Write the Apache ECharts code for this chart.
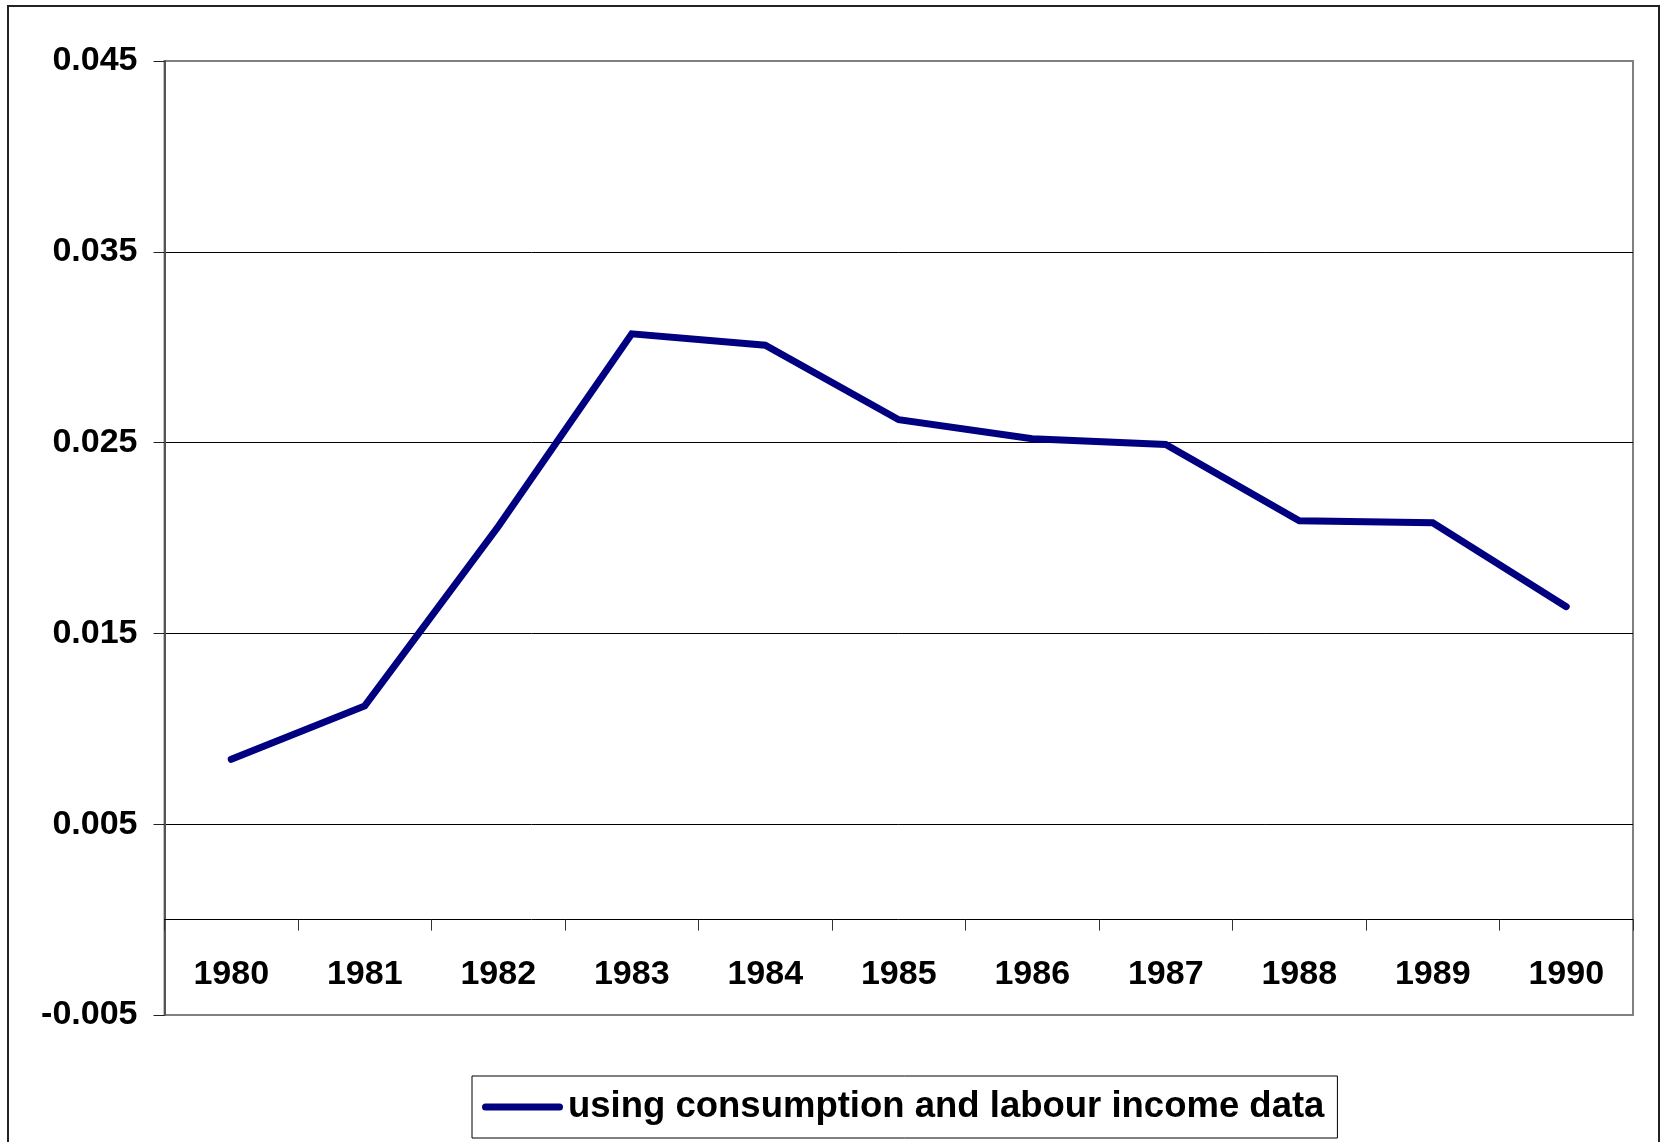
<!DOCTYPE html>
<html>
<head>
<meta charset="utf-8">
<script src="https://cdn.jsdelivr.net/npm/echarts@6/dist/echarts.min.js"></script>
<style>
html,body{margin:0;padding:0;background:#fff;}
#chart{width:1665px;height:1142px;}
</style>
</head>
<body>
<div id="chart"></div>
<script>
const years = ['1980','1981','1982','1983','1984','1985','1986','1987','1988','1989','1990'];
const seriesName = 'using consumption and labour income data';
const values = [0.0084, 0.0112, 0.0206, 0.0307, 0.0301, 0.0262, 0.0252, 0.0249, 0.0209, 0.0208, 0.0164];
const yMin = -0.005;
const yMax = 0.045;
const yStep = 0.01;

const FONT = '"Liberation Sans", Arial, sans-serif';
const chart = echarts.init(document.getElementById('chart'));
chart.setOption({
  backgroundColor: '#fff',
  animation: false,
  graphic: [{
    type: 'rect',
    shape: {x: 8, y: 6, width: 1651, height: 1300},
    style: {fill: 'none', stroke: '#222', lineWidth: 2},
    z: -1
  }],
  grid: {
    left: 164.5, right: 32, top: 61, bottom: 127,
    show: true, borderColor: '#808080', borderWidth: 2, backgroundColor: '#fff'
  },
  legend: {
    left: 472, top: 1076,
    padding: [11, 13, 11, 10],
    borderColor: '#000', borderWidth: 1,
    itemWidth: 81, itemHeight: 7,
    icon: 'path://M3.5,0 L77.5,0 A3.5,3.5 0 0 1 77.5,7 L3.5,7 A3.5,3.5 0 0 1 3.5,0 Z',
    textStyle: {fontFamily: FONT, fontWeight: 'bold', fontSize: 36.5, color: '#000', lineHeight: 40},
    data: [seriesName]
  },
  xAxis: {
    type: 'category',
    data: years,
    boundaryGap: true,
    axisLine: {onZero: true, lineStyle: {color: '#000', width: 1}},
    axisTick: {show: true, length: 11, lineStyle: {color: '#333', width: 1}},
    axisLabel: {fontFamily: FONT, fontWeight: 'bold', fontSize: 34, color: '#000', margin: -57, interval: 0},
    splitLine: {show: false}
  },
  yAxis: {
    type: 'value',
    min: yMin, max: yMax, interval: yStep,
    axisLine: {show: true, onZero: false, lineStyle: {color: '#555', width: 2}},
    axisTick: {show: true, length: 11, lineStyle: {color: '#222', width: 1}},
    axisLabel: {
      fontFamily: FONT, fontWeight: 'bold', fontSize: 34, color: '#000', margin: 27,
      formatter: v => v.toFixed(3)
    },
    splitLine: {show: true, showMinLine: false, showMaxLine: false, lineStyle: {color: '#000', width: 1}}
  },
  series: [{
    name: seriesName,
    type: 'line',
    data: values,
    showSymbol: false,
    symbol: 'none',
    color: '#000080',
    lineStyle: {color: '#000080', width: 7, cap: 'round', join: 'miter'}
  }]
});
</script>
</body>
</html>
